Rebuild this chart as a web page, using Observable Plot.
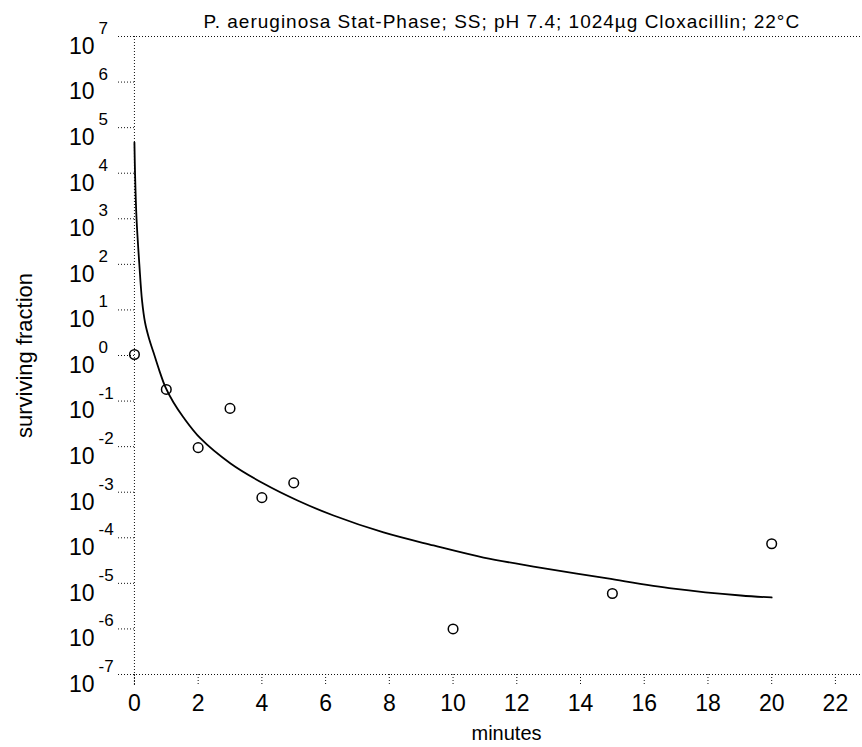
<!DOCTYPE html>
<html><head><meta charset="utf-8">
<script src="https://cdn.jsdelivr.net/npm/d3@7"></script>
<script src="https://cdn.jsdelivr.net/npm/@observablehq/plot@0.6"></script>
<style>body{margin:0;background:#fff} svg{display:block;font-family:"Liberation Sans",Arial,sans-serif}</style>
</head><body><div id="chart"></div>
<script>
// ---- data ----
const titleText = "P. aeruginosa Stat-Phase; SS; pH 7.4; 1024µg Cloxacillin; 22°C";
const xLabelText = "minutes";
const yLabelText = "surviving fraction";

const pointMinutes  = [0, 1, 2, 3, 4, 5, 10, 15, 20];
const pointFraction = [1.05, 0.18, 0.0095, 0.069, 7.6e-4, 1.6e-3, 1.0e-6, 6.0e-6, 7.4e-5];

const curveMinutes  = [0, 0.019, 0.066, 0.154, 0.239, 0.333, 0.458, 0.6, 0.772, 0.976, 1.227, 1.541, 2.075, 3.016, 4.052, 5.119, 6.249, 7.818, 9.388, 10.957, 12.526, 14.849, 16.92, 19.03, 20.0];
const curveFraction = [4.72e4, 1e4, 1e3, 1e2, 16, 5.3, 2.36, 1.16, 0.49, 0.199, 0.093, 0.0437, 0.0151, 4.27e-3, 1.55e-3, 6.58e-4, 3.08e-4, 1.31e-4, 6.78e-5, 3.69e-5, 2.34e-5, 1.28e-5, 7.7e-6, 5.42e-6, 4.9e-6];

const xTickValues = [0, 2, 4, 6, 8, 10, 12, 14, 16, 18, 20, 22];
const yTickExponents = [7, 6, 5, 4, 3, 2, 1, 0, -1, -2, -3, -4, -5, -6, -7];

// ---- build tables ----
const points = pointMinutes.map((m, i) => ({m, f: pointFraction[i]}));
const curve = curveMinutes.map((m, i) => ({m, f: curveFraction[i]}));
const yTicks = yTickExponents.map(e => ({e, v: Math.pow(10, e)}));

const xMin = -0.5, xMax = 22.85;
const yMin = 1e-7, yMax = 1e7;
const dotted = {stroke: "#111", strokeWidth: 1, strokeDasharray: "1,2"};

const chart = Plot.plot({
  width: 862,
  height: 747,
  marginLeft: 118,
  marginRight: 0,
  marginTop: 36,
  marginBottom: 73,
  style: {fontFamily: '"Liberation Sans", Arial, sans-serif', background: "#fff", color: "#000"},
  x: {domain: [xMin, xMax], axis: null},
  y: {type: "log", domain: [yMin, yMax], axis: null},
  marks: [
    // frame top / bottom
    Plot.ruleY([yMax], {x1: xMin, x2: xMax, ...dotted}),
    Plot.ruleY([yMin], {x1: xMin, x2: xMax, ...dotted}),
    // y axis at x = 0
    Plot.ruleX([0], {y1: yMax, y2: Math.pow(10, -7.28), ...dotted}),
    // y ticks
    Plot.ruleY(yTicks, {y: "v", x1: xMin, x2: 0, ...dotted}),
    // x ticks
    Plot.ruleX(xTickValues, {x: d => d, y1: yMin, y2: Math.pow(10, -7.25), ...dotted}),
    // x tick labels
    Plot.text(xTickValues, {x: d => d, y: yMin, dy: 29, text: d => String(d), fontSize: 23, fill: "#000"}),
    // y tick labels "10" + exponent
    Plot.text(yTicks, {x: xMin, y: "v", dx: -24, dy: 10, text: () => "10", textAnchor: "end", fontSize: 23, fill: "#000"}),
    Plot.text(yTicks, {x: xMin, y: "v", dx: -20, dy: -8, text: d => String(d.e), textAnchor: "start", fontSize: 17, fill: "#000"}),
    // fitted curve
    Plot.line(curve, {x: "m", y: "f", curve: "catmull-rom", stroke: "#000", strokeWidth: 1.8}),
    // observations
    Plot.dot(points, {x: "m", y: "f", r: 4.8, stroke: "#000", strokeWidth: 1.5, fill: "none"}),
    // title
    Plot.text([titleText], {frameAnchor: "top-left", dx: 85, dy: -15, textAnchor: "start", lineAnchor: "middle", fontSize: 19, fill: "#000"}),
    // axis labels
    Plot.text([xLabelText], {frameAnchor: "bottom", dx: 16, dy: 59, textAnchor: "middle", lineAnchor: "middle", fontSize: 20, fill: "#000"}),
    Plot.text([yLabelText], {frameAnchor: "left", dx: -94, dy: 0, rotate: -90, textAnchor: "middle", lineAnchor: "middle", fontSize: 22, fill: "#000"})
  ]
});
// widen the title's letter spacing to match the reference
d3.select(chart).selectAll("text")
  .filter(function() { return this.textContent === titleText; })
  .attr("letter-spacing", 1);
document.getElementById("chart").appendChild(chart);
</script>
</body></html>
